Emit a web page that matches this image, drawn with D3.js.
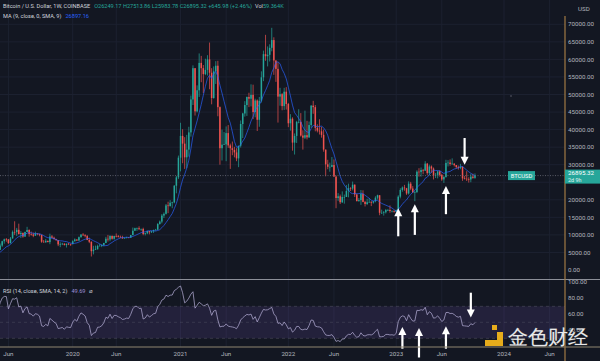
<!DOCTYPE html>
<html><head><meta charset="utf-8">
<script src="https://cdn.jsdelivr.net/npm/d3@7"></script>
<style>
html,body{margin:0;padding:0;background:#131722;}
svg{display:block;}
text{font-family:Roboto,"Noto Sans",sans-serif;}
</style></head><body>
<svg id="c" width="600" height="361"></svg>
<script>
// ---------- DATA (prices in thousands of USD, weekly bars from 2019-04-29) ----------
const firstWeek = "2019-04-29";
const warmupCloses = [6.25,6.50,6.70,6.63,6.60,6.50,6.50,6.35,6.45,6.35,4.90,4.00,3.80,3.25,3.95,3.85,3.85,4.05,3.55,3.55,3.45,3.45,3.65,3.95,3.85,3.85,3.95,4.00,3.99,4.10,5.15,5.25,5.35,5.20];
const closes = [
5.77,6.97,8.20,8.75,8.74,7.65,8.99,10.85,10.80,11.45,10.25,10.55,9.53,10.82,11.40,10.23,10.14,9.76,10.40,10.30,10.00,8.05,7.87,8.30,7.95,9.55,9.20,8.80,8.50,7.30,7.40,7.50,7.10,7.50,7.40,7.35,
8.20,8.70,8.40,9.35,10.10,9.90,9.65,8.55,8.05,5.35,5.80,5.90,6.85,6.90,7.13,7.70,8.90,8.70,9.70,8.90,9.70,9.67,9.45,9.30,9.00,9.08,9.25,9.20,9.95,11.20,11.90,11.90,11.65,11.70,10.25,10.45,11.10,10.75,11.05,11.40,11.50,13.10,13.80,15.50,16.00,18.40,18.20,19.15,19.25,24.00,26.40,32.00,
38.20,36.00,32.10,34.30,39.20,48.60,57.50,45.20,51.20,59.00,57.50,55.80,57.00,60.00,56.20,49.00,56.60,58.20,46.40,34.70,35.70,35.80,39.00,35.50,34.70,34.20,33.50,31.80,35.40,41.60,44.60,47.00,49.30,48.80,49.90,45.00,48.30,42.80,48.20,54.90,61.50,60.90,61.30,63.30,65.50,59.70,57.30,49.40,50.10,46.70,50.80,47.30,
41.80,43.10,36.30,38.20,42.20,42.20,38.30,37.70,38.40,37.80,41.30,46.80,46.40,40.50,39.70,39.50,38.50,34.30,30.10,29.40,29.40,29.90,26.60,20.50,21.00,19.30,20.80,20.80,22.50,23.30,23.20,24.30,21.50,19.60,19.90,21.70,19.40,18.80,19.30,19.40,19.20,19.60,20.60,21.30,16.30,16.30,16.45,17.10,17.10,16.80,16.85,16.60,
17.10,20.90,22.80,23.50,23.30,21.80,24.60,23.20,22.10,22.20,28.00,27.90,28.50,28.30,30.30,27.60,29.50,28.90,26.90,27.10,28.10,27.10,25.80,26.50,30.50,30.60,30.20,30.30,29.90,29.30,29.05,29.40,26.10,26.00,25.90,25.80,26.60,26.249,26.895];
const highs = [
5.88,7.55,8.35,8.95,9.10,8.75,9.40,11.25,13.88,12.00,13.20,11.10,10.70,10.95,12.30,11.60,10.95,10.65,10.92,10.45,10.30,10.05,8.55,8.85,8.40,10.35,9.95,9.50,8.90,8.55,7.90,7.75,7.60,7.50,7.70,7.50,
8.45,9.00,8.70,9.55,10.20,10.50,10.20,9.98,9.20,8.15,6.90,6.95,7.20,7.45,7.30,7.75,9.45,10.00,9.90,9.85,9.75,10.40,9.95,9.80,9.75,9.30,9.45,9.35,10.00,12.10,12.05,12.10,12.45,11.80,12.05,10.65,11.15,10.95,11.15,11.50,11.72,13.35,14.10,15.95,16.40,18.80,19.45,19.90,19.45,24.20,26.80,32.60,
41.95,40.10,37.85,38.50,40.80,49.70,58.30,57.50,52.60,61.70,61.00,58.40,60.20,61.20,64.80,57.50,58.00,59.50,59.60,46.60,40.00,39.30,40.90,41.30,36.00,36.60,35.10,34.70,35.40,42.60,44.80,48.10,49.40,50.50,52.90,52.80,48.80,48.60,49.30,56.60,62.50,67.00,63.70,64.30,69.00,66.30,59.30,59.20,51.90,50.40,51.90,52.10,
47.60,44.40,43.50,38.90,42.50,45.80,44.70,39.80,45.40,42.50,42.30,47.00,48.20,47.00,41.50,42.95,40.80,40.00,34.30,31.40,30.60,32.20,31.50,26.90,21.90,21.50,22.40,21.50,24.20,24.60,23.60,25.20,24.40,21.80,20.50,22.80,22.70,19.70,20.30,20.50,19.60,19.70,21.00,21.45,21.10,17.20,16.80,17.40,17.40,18.40,16.95,16.95,
17.20,21.30,23.30,23.80,24.25,23.40,25.25,25.10,23.90,22.60,28.40,29.00,29.20,28.80,31.00,30.50,30.00,29.80,29.20,27.65,28.30,28.45,27.40,26.80,31.40,31.30,31.50,31.80,30.40,29.90,29.75,30.25,29.50,26.80,28.15,26.40,27.40,27.45,27.514];
const lows = [
5.20,5.70,6.60,7.50,8.05,7.45,7.55,8.95,10.00,9.70,10.10,9.10,9.20,9.40,10.80,9.50,9.80,9.35,9.75,9.90,9.60,7.75,7.80,7.80,7.90,7.35,9.05,8.70,8.35,6.80,6.50,7.10,7.00,6.40,7.10,6.85,
7.35,8.10,8.25,8.30,9.20,9.70,9.30,8.50,7.65,3.85,4.45,5.70,5.85,6.80,6.50,6.75,7.65,8.10,8.20,8.65,8.65,9.30,9.25,9.15,8.90,8.95,9.05,9.10,9.15,9.90,11.10,11.15,11.35,11.15,9.90,9.85,10.20,10.15,10.55,10.55,11.20,11.40,12.90,13.30,14.80,15.80,16.20,18.10,17.60,19.00,21.85,25.90,
28.10,30.40,28.80,29.00,32.30,38.00,47.00,44.00,44.90,49.30,53.50,50.40,55.50,55.40,51.50,47.20,48.80,53.00,43.80,30.00,31.20,35.60,31.00,34.80,28.80,32.70,32.10,31.00,29.30,34.90,37.60,43.70,43.90,46.40,46.60,43.00,43.50,39.60,40.80,47.70,53.80,59.60,58.00,59.40,62.30,55.60,53.60,42.00,46.80,45.50,45.60,45.70,
40.70,39.70,34.00,32.90,36.20,41.80,38.00,34.30,37.30,37.20,37.60,40.50,44.50,39.50,39.20,38.60,37.70,33.70,26.70,28.70,28.00,29.30,26.60,17.60,19.70,18.80,19.10,18.90,20.80,20.70,22.50,22.70,20.80,19.60,19.50,18.55,19.30,18.10,18.50,19.20,18.20,18.90,19.30,20.10,15.60,16.00,15.50,16.10,16.80,16.30,16.40,16.35,
16.50,17.10,20.40,22.30,22.60,21.40,21.50,22.75,21.90,19.60,21.90,26.60,26.60,27.30,28.20,27.10,26.95,27.70,25.80,26.20,26.10,26.60,25.40,24.80,26.30,29.50,29.70,30.00,29.50,28.90,28.60,28.70,25.40,25.80,25.35,24.90,25.00,26.00,25.984];
const priceTicks = [0,5,10,15,20,25,30,35,40,45,50,55,60,65,70];
const rsiTicks = [40,60,80,100];
const timeTickDates = ["2019-06-03","2020-01-06","2020-06-01","2021-01-04","2021-06-07","2022-01-03","2022-06-06","2023-01-02","2023-06-05","2024-01-01","2024-06-03"];
const timeTickLabels = ["Jun","2020","Jun","2021","Jun","2022","Jun","2023","Jun","2024","Jun"];
// annotation arrows: [date of bar, from value, to value] (arrow points toward 'to')
const priceArrowsUp = [["2023-01-09",9.6,17.6],["2023-03-06",10.0,18.7],["2023-06-19",15.9,23.9]];
const priceArrowsDown = [["2023-08-21",37.6,30.0]];
const rsiArrowsUp = [["2023-01-23",17,44],["2023-03-20",6,43],["2023-06-19",17,45]];
const rsiArrowsDown = [["2023-09-11",87,56]];

// ---------- LAYOUT ----------
const W = 600, H = 361, axisX = 565;
const mainTop = 0, mainBot = 279.5, rsiTop = 279.5, rsiBot = 347;
const svg = d3.select("#c");
const C = {bg:"#131722", grid:"#1c2130", text:"#b2b5be", up:"#26a69a", down:"#ef5350", ma:"#2962ff", rsi:"#b7b0d8"};

const n = Math.min(closes.length, highs.length, lows.length);
const wk = d3.utcMonday.offset;
const t0 = new Date(firstWeek + "T00:00:00Z");
const bars = d3.range(n).map(i => {
  const o = i === 0 ? warmupCloses[warmupCloses.length-1] : closes[i-1];
  const c = closes[i];
  return {date: wk(t0, i), o, c, h: Math.max(highs[i], o, c), l: Math.min(lows[i], o, c)};
});
const pd = s => new Date(s + "T00:00:00Z");

const x = d3.scaleUtc().domain([pd("2020-01-06"), pd("2024-01-01")]).range([72.7, 504]);
const y = d3.scaleLinear().domain([0, 70]).range([270, 24.3]);
const yr = d3.scaleLinear().domain([0, 100]).range([362.3, 282.3]);

// indicators
const all = warmupCloses.concat(closes.slice(0, n));
const off = warmupCloses.length;
const ma = bars.map((b, i) => d3.mean(all.slice(off + i - 8, off + i + 1)));
const rsiAll = []; let au = 0, ad = 0;
for (let i = 1; i < all.length; i++) {
  const ch = all[i] - all[i-1], u = Math.max(ch, 0), d = Math.max(-ch, 0);
  if (i <= 14) { au += u / 14; ad += d / 14; }
  else { au = (au * 13 + u) / 14; ad = (ad * 13 + d) / 14; }
  rsiAll[i] = i >= 14 ? (ad === 0 ? 100 : 100 - 100 / (1 + au / ad)) : null;
}
const rsi = bars.map((b, i) => rsiAll[off + i]);

// ---------- DRAW ----------
svg.append("rect").attr("width", W).attr("height", H).attr("fill", C.bg);
const defs = svg.append("defs");
defs.append("clipPath").attr("id","cm").append("rect").attr("x",0).attr("y",mainTop).attr("width",axisX).attr("height",mainBot-mainTop);
defs.append("clipPath").attr("id","cr").append("rect").attr("x",0).attr("y",rsiTop).attr("width",axisX).attr("height",rsiBot-rsiTop);

// grid
const gGrid = svg.append("g");
gGrid.selectAll("line.v").data(timeTickDates).join("line")
  .attr("x1", d => x(pd(d))).attr("x2", d => x(pd(d))).attr("y1", 0).attr("y2", rsiBot)
  .attr("stroke", C.grid).attr("stroke-width", 1);
gGrid.selectAll("line.h").data(priceTicks.filter(t => t > 0)).join("line")
  .attr("x1", 0).attr("x2", axisX).attr("y1", d => y(d)).attr("y2", d => y(d))
  .attr("stroke", C.grid).attr("stroke-width", 1);

// RSI band
const gR = svg.append("g").attr("clip-path", "url(#cr)");
gR.append("rect").attr("x", 0).attr("width", axisX).attr("y", yr(70)).attr("height", yr(30) - yr(70))
  .attr("fill", "rgba(126,87,194,0.16)");
[70, 50, 30].forEach(v => gR.append("line").attr("x1", 0).attr("x2", axisX).attr("y1", yr(v)).attr("y2", yr(v))
  .attr("stroke", v === 50 ? "rgba(120,123,134,0.35)" : "rgba(120,123,134,0.45)").attr("stroke-dasharray", "3,3").attr("stroke-width", 0.7));
gR.append("path").datum(bars.map((b, i) => [x(b.date), yr(rsi[i])]))
  .attr("d", d3.line()).attr("fill", "none").attr("stroke", C.rsi).attr("stroke-width", 0.8).attr("opacity", 0.9);

// candles
const gM = svg.append("g").attr("clip-path", "url(#cm)");
const cs = gM.selectAll("g.c").data(bars).join("g");
cs.append("line").attr("x1", d => x(d.date)).attr("x2", d => x(d.date))
  .attr("y1", d => y(d.h)).attr("y2", d => y(d.l))
  .attr("stroke", d => d.c >= d.o ? C.up : C.down).attr("stroke-width", 0.7);
cs.append("rect").attr("x", d => x(d.date) - 0.75).attr("width", 1.5)
  .attr("y", d => y(Math.max(d.o, d.c))).attr("height", d => Math.max(0.6, Math.abs(y(d.o) - y(d.c))))
  .attr("fill", d => d.c >= d.o ? C.up : C.down);
// MA
gM.append("path").datum(bars.map((b, i) => [x(b.date), y(ma[i])]))
  .attr("d", d3.line()).attr("fill", "none").attr("stroke", C.ma).attr("stroke-width", 0.8).attr("opacity", 0.85);
// last price line
const last = bars[n-1];
gM.append("line").attr("x1", 0).attr("x2", axisX).attr("y1", y(last.c)).attr("y2", y(last.c))
  .attr("stroke", "#6b6f7a").attr("stroke-width", 0.8).attr("stroke-dasharray", "1,1.5");
gM.append("circle").attr("cx", 511).attr("cy", 96).attr("r", 0.8).attr("fill", "#5d606b");

// arrows
function arrow(g, xp, yFrom, yTo) {
  const dir = yTo > yFrom ? 1 : -1, head = 8, hw = 4;
  g.append("line").attr("x1", xp).attr("x2", xp).attr("y1", yFrom).attr("y2", yTo - dir * (head - 1))
    .attr("stroke", "#ffffff").attr("stroke-width", 2.2);
  g.append("path").attr("d", `M${xp},${yTo} L${xp - hw},${yTo - dir * head} L${xp + hw},${yTo - dir * head} Z`).attr("fill", "#ffffff");
}
const gA = svg.append("g");
priceArrowsUp.concat(priceArrowsDown).forEach(a => arrow(gA, x(pd(a[0])), y(a[1]), y(a[2])));
rsiArrowsUp.concat(rsiArrowsDown).forEach(a => arrow(gA, x(pd(a[0])), yr(a[1]), yr(a[2])));

// separators
svg.append("line").attr("x1", 0).attr("x2", W).attr("y1", rsiTop).attr("y2", rsiTop).attr("stroke", "#8c8f98").attr("stroke-width", 1);
svg.append("line").attr("x1", 0).attr("x2", W).attr("y1", rsiBot).attr("y2", rsiBot).attr("stroke", "#8f8670").attr("stroke-width", 1);
svg.append("line").attr("x1", axisX).attr("x2", axisX).attr("y1", 16).attr("y2", H).attr("stroke", "#a27a45").attr("stroke-width", 1.2);

// last price tag position (axis labels under the tag are hidden, as in the reference)
const ly = y(last.c);

// price axis labels
const gAx = svg.append("g").attr("font-size", 6.2).attr("fill", C.text);
gAx.selectAll("text.p").data(priceTicks.filter(t => Math.abs(y(t) - ly) > 9)).join("text")
  .attr("x", 568).attr("y", d => y(d)).attr("dy", "0.35em").text(d => d3.format(".2f")(d * 1000));
gAx.selectAll("text.r").data(rsiTicks).join("text")
  .attr("x", 568).attr("y", d => yr(d)).attr("dy", "0.35em").text(d => d3.format(".2f")(d));
gAx.append("text").attr("x", 578).attr("y", 11).text("USD");
// time axis labels
gAx.selectAll("text.t").data(timeTickDates).join("text")
  .attr("x", d => x(pd(d))).attr("y", 356).attr("text-anchor", "middle")
  .text((d, i) => timeTickLabels[i]);

// last price tags
svg.append("rect").attr("x", axisX).attr("y", ly - 6).attr("width", 35).attr("height", 14).attr("fill", C.up);
svg.append("text").attr("x", 568).attr("y", ly - 0.5).attr("font-size", 6.2).attr("fill", "#fff").text(d3.format(".2f")(26895.32));
svg.append("text").attr("x", 568).attr("y", ly + 6).attr("font-size", 5.4).attr("fill", "#e0f2f1").text("2d 9h");
svg.append("rect").attr("x", 508).attr("y", ly - 4.5).attr("width", 27).attr("height", 9).attr("fill", C.up);
svg.append("text").attr("x", 521.5).attr("y", ly + 2.2).attr("font-size", 5.8).attr("fill", "#fff").attr("text-anchor", "middle").text("BTCUSD");

// header legends
const h1 = svg.append("text").attr("x", 3).attr("y", 8).attr("font-size", 5.6).attr("fill", "#d1d4dc");
h1.append("tspan").text("Bitcoin / U.S. Dollar, 1W, COINBASE");
h1.append("tspan").attr("dx", 4).attr("fill", C.up).text("O26249.17 H27513.86 L25983.78 C26895.32 +645.98 (+2.46%)");
h1.append("tspan").attr("dx", 3).attr("fill", "#d1d4dc").text("Vol");
h1.append("tspan").attr("fill", C.up).text("59.364K");
const h2 = svg.append("text").attr("x", 3).attr("y", 18).attr("font-size", 5.6).attr("fill", "#d1d4dc");
h2.append("tspan").text("MA (9, close, 0, SMA, 9)");
h2.append("tspan").attr("dx", 4).attr("fill", C.ma).text("26897.16");
const h3 = svg.append("text").attr("x", 3).attr("y", 293).attr("font-size", 5.6).attr("fill", "#d1d4dc");
h3.append("tspan").text("RSI (14, close, SMA, 14, 2)");
h3.append("tspan").attr("dx", 4).attr("fill", "#9c8fd6").text("49.69");
h3.append("tspan").attr("dx", 3).text("⌀");

// watermark
const gW = svg.append("g").attr("opacity", 0.95);
gW.append("rect").attr("x", 492).attr("y", 325).attr("width", 5).attr("height", 5).attr("fill", "#f2b51b");
gW.append("path").attr("d", "M497,332 h6 v14 h-18 v-6 h12 z").attr("fill", "#f2b51b");
gW.append("text").attr("x", 508).attr("y", 344).attr("font-size", 20).attr("font-family", "'Noto Sans CJK SC',sans-serif")
  .attr("fill", "#f4f4f4").attr("stroke", "#55585f").attr("stroke-width", 0.6).attr("paint-order", "stroke").text("金色财经");
</script>
</body></html>
